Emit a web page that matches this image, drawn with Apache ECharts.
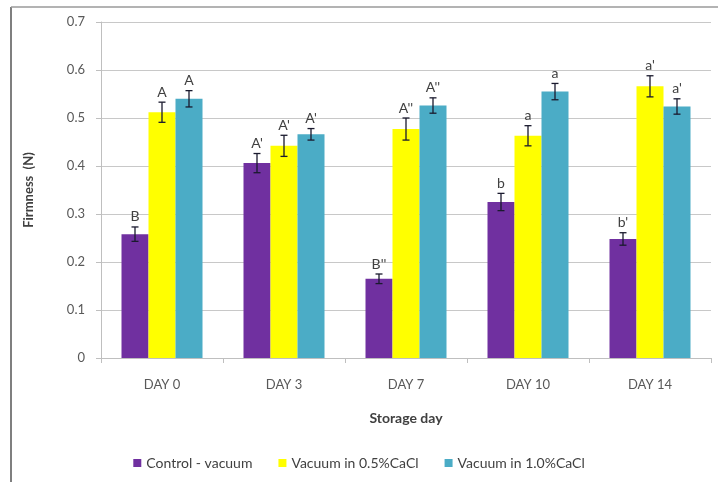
<!DOCTYPE html>
<html><head><meta charset="utf-8">
<script src="https://cdn.jsdelivr.net/npm/echarts@6/dist/echarts.min.js"></script>
<style>html,body{margin:0;padding:0;background:#fff}#c{width:718px;height:482px}</style>
</head><body><div id="c"></div>
<script>
const categories = ['DAY 0', 'DAY 3', 'DAY 7', 'DAY 10', 'DAY 14'];
const seriesNames = ['Control - vacuum', 'Vacuum in 0.5%CaCl', 'Vacuum in 1.0%CaCl'];
const control = [0.258, 0.406, 0.165, 0.325, 0.248];
const cacl05 = [0.512, 0.442, 0.477, 0.463, 0.566];
const cacl10 = [0.540, 0.466, 0.526, 0.555, 0.524];
const controlErr = [0.015, 0.020, 0.010, 0.018, 0.013];
const cacl05Err = [0.021, 0.022, 0.023, 0.021, 0.022];
const cacl10Err = [0.017, 0.012, 0.016, 0.017, 0.016];
const controlLabels = ['B', "A'", "B''", 'b', "b'"];
const cacl05Labels = ['A', "A'", "A''", 'a', "a'"];
const cacl10Labels = ['A', "A'", "A''", 'a', "a'"];
const yTicks = [0, 0.1, 0.2, 0.3, 0.4, 0.5, 0.6, 0.7];

const colors = ['#7030A0', '#FFFF00', '#4BACC6'];
const FONT = 'Lato, "Open Sans", sans-serif';
const chart = echarts.init(document.getElementById('c'));

const values = [control, cacl05, cacl10];
const errs = [controlErr, cacl05Err, cacl10Err];
const labels = [controlLabels, cacl05Labels, cacl10Labels];

const barSeries = values.map((v, i) => ({
  name: seriesNames[i], type: 'bar', data: v,
  itemStyle: { color: colors[i] },
  barWidth: 27, barGap: '0%', z: 2
}));

const errSeries = values.map((v, i) => ({
  type: 'custom', name: seriesNames[i] + ' err', z: 5,
  data: v.map((val, j) => [j, val, errs[i][j], labels[i][j]]),
  renderItem: function (params, api) {
    const x = api.coord([api.value(0), 0])[0] + (i - 1) * 27;
    const yv = api.value(1), e = api.value(2);
    const top = api.coord([api.value(0), yv + e])[1];
    const bot = api.coord([api.value(0), yv - e])[1];
    const hw = 3.5;
    const st = { stroke: '#1a1a2e', lineWidth: 1.3 };
    return { type: 'group', children: [
      { type: 'line', shape: { x1: x, y1: top, x2: x, y2: bot }, style: st },
      { type: 'line', shape: { x1: x - hw, y1: top, x2: x + hw, y2: top }, style: st },
      { type: 'line', shape: { x1: x - hw, y1: bot, x2: x + hw, y2: bot }, style: st },
      { type: 'text', style: { text: api.value(3), x: x, y: top - 3, align: 'center', verticalAlign: 'bottom',
        fill: '#404040', font: '14px ' + FONT } }
    ]};
  },
  encode: { x: 0, y: 1 },
  tooltip: { show: false }
}));

chart.setOption({
  animation: false,
  backgroundColor: '#fff',
  grid: { left: 101, right: 7, top: 22, bottom: 124, containLabel: false },
  xAxis: {
    type: 'category', data: categories,
    name: 'Storage day', nameLocation: 'middle', nameGap: 53,
    nameTextStyle: { fontFamily: FONT, fontWeight: 'bold', fontSize: 14, color: '#404040' },
    axisLine: { lineStyle: { color: '#bfbfbf' } },
    axisTick: { show: true, length: 5, alignWithLabel: false, lineStyle: { color: '#bfbfbf' } },
    axisLabel: { fontFamily: FONT, fontSize: 13, color: '#595959', margin: 20 }
  },
  yAxis: {
    type: 'value', min: 0, max: 0.7, interval: 0.1,
    name: 'Firmness  (N)', nameLocation: 'middle', nameGap: 66, nameRotate: 90,
    nameTextStyle: { fontFamily: FONT, fontWeight: 'bold', fontSize: 13, color: '#404040' },
    axisLine: { show: true, lineStyle: { color: '#bfbfbf' } },
    axisTick: { show: true, length: 5, inside: false, lineStyle: { color: '#bfbfbf' } },
    splitLine: { lineStyle: { color: '#c8c8c8' } },
    axisLabel: { fontFamily: FONT, fontSize: 13, color: '#595959', margin: 16,
      formatter: v => { const t = yTicks.find(k => Math.abs(k - v) < 1e-9); return t === undefined ? '' : String(t); } }
  },
  legend: {
    data: seriesNames, bottom: 7, left: 'center', itemWidth: 8, itemHeight: 8, itemGap: 26,
    icon: 'rect', textStyle: { fontFamily: FONT, fontSize: 14, color: '#404040' }
  },
  graphic: [
    { type: 'line', shape: { x1: 11, y1: 7, x2: 11, y2: 482 }, style: { stroke: '#7f7f7f', lineWidth: 2 } },
    { type: 'line', shape: { x1: 11, y1: 7, x2: 718, y2: 7 }, style: { stroke: '#9a9a9a', lineWidth: 1.5 } }
  ],
  series: [...barSeries, ...errSeries]
});
</script></body></html>
